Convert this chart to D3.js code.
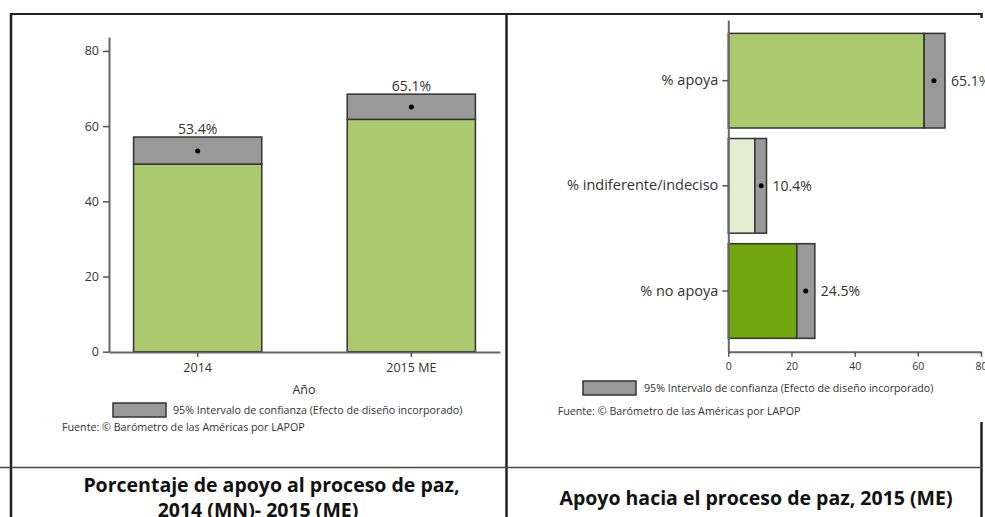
<!DOCTYPE html>
<html>
<head>
<meta charset="utf-8">
<script src="https://cdn.jsdelivr.net/npm/d3@7"></script>
<style>
  body { margin: 0; background: #fff; }
  text { font-family: "Open Sans", "Noto Sans", sans-serif; fill: #333; }
</style>
</head>
<body>
<script>
// left chart: support by year
const years = ['2014', '2015 ME'];
const yearMean = [53.4, 65.1];
const yearLow = [49.9, 61.8];
const yearHigh = [57.1, 68.5];
const yTicksLeft = [0, 20, 40, 60, 80];

// right chart: support categories 2015
const cats = ['% apoya', '% indiferente/indeciso', '% no apoya'];
const catMean = [65.1, 10.4, 24.5];
const catLow = [62.0, 8.4, 21.7];
const catHigh = [68.6, 12.1, 27.4];
const catColors = ['#abc96d', '#e2edd2', '#71a60f'];
const xTicksRight = [0, 20, 40, 60, 80];

const legendText = '95% Intervalo de confianza (Efecto de diseño incorporado)';
const sourceText = 'Fuente: © Barómetro de las Américas por LAPOP';

const width = 985, height = 517;

let svg = d3.select('body').append('svg')
  .attr('width', width)
  .attr('height', height);

function fmt(v){
  return v.toFixed(1) + '%';
}

// ---------- frame ----------
function drawFrame(){
  let g = svg.append('g').attr('stroke', '#222').attr('fill', 'none');
  g.append('line').attr('x1', 10).attr('x2', 982).attr('y1', 14).attr('y2', 14).attr('stroke-width', 2);
  g.append('line').attr('x1', 981.5).attr('x2', 981.5).attr('y1', 13).attr('y2', 18).attr('stroke-width', 2.5);
  g.append('line').attr('x1', 11).attr('x2', 11).attr('y1', 13).attr('y2', height).attr('stroke-width', 2.5);
  g.append('line').attr('x1', 506.5).attr('x2', 506.5).attr('y1', 13).attr('y2', height).attr('stroke-width', 2.5);
  g.append('line').attr('x1', 981.5).attr('x2', 981.5).attr('y1', 422).attr('y2', height).attr('stroke-width', 2.5);
  g.append('line').attr('x1', 0).attr('x2', 982).attr('y1', 467.5).attr('y2', 467.5)
    .attr('stroke', '#444').attr('stroke-width', 1.5);

  // panel captions (second line is cut by the page edge, as in the source)
  svg.append('text')
    .attr('x', 271.5).attr('y', 485)
    .attr('dy', '0.35em')
    .attr('text-anchor', 'middle')
    .style('font-size', '19.5px').style('font-weight', 'bold').style('fill', '#111')
    .text('Porcentaje de apoyo al proceso de paz,');
  svg.append('text')
    .attr('x', 258).attr('y', 510)
    .attr('dy', '0.35em')
    .attr('text-anchor', 'middle')
    .style('font-size', '19.5px').style('font-weight', 'bold').style('fill', '#111')
    .text('2014 (MN)- 2015 (ME)');
  svg.append('text')
    .attr('x', 756).attr('y', 498)
    .attr('dy', '0.35em')
    .attr('text-anchor', 'middle')
    .style('font-size', '19.5px').style('font-weight', 'bold').style('fill', '#111')
    .text('Apoyo hacia el proceso de paz, 2015 (ME)');
}

function styleAxis(a, fontSize){
  a.selectAll('.domain').attr('stroke', '#666').attr('stroke-width', 2);
  a.selectAll('.tick line').attr('stroke', '#555').attr('stroke-width', 1.5);
  a.selectAll('.tick text').style('font-size', fontSize).style('fill', '#333')
    .style('font-family', '"Open Sans", sans-serif');
}

function drawLegend(x, y, tx, sx, sy){
  svg.append('rect')
    .attr('x', x).attr('y', y)
    .attr('width', 53).attr('height', 14)
    .attr('fill', '#999').attr('stroke', '#333').attr('stroke-width', 1.5);
  svg.append('text')
    .attr('x', tx).attr('y', y + 7).attr('dy', '0.35em')
    .style('font-size', '10.7px')
    .text(legendText);
  svg.append('text')
    .attr('x', sx).attr('y', sy).attr('dy', '0.35em')
    .style('font-size', '10.7px')
    .text(sourceText);
}

// ---------- left chart ----------
function drawLeft(){
  const x = d3.scaleBand().domain(years).range([109, 500]).paddingInner(0.4).paddingOuter(0.115);
  const y = d3.scaleLinear().domain([0, 83.7]).range([351.7, 37]);

  let yAxis = svg.append('g')
    .attr('transform', 'translate(109,0)')
    .call(d3.axisLeft(y).tickValues(yTicksLeft).tickSize(6).tickSizeOuter(0).tickPadding(4));
  styleAxis(yAxis, '12.5px');

  let data = years.map((d, i) => ({k: d, m: yearMean[i], lo: yearLow[i], hi: yearHigh[i]}));

  svg.selectAll('.barL').data(data).enter().append('rect')
    .attr('class', 'barL')
    .attr('x', d => x(d.k)).attr('width', x.bandwidth())
    .attr('y', d => y(d.lo)).attr('height', d => y(0) - y(d.lo))
    .attr('fill', '#abc96d').attr('stroke', '#333').attr('stroke-width', 1.5);

  svg.selectAll('.ciL').data(data).enter().append('rect')
    .attr('class', 'ciL')
    .attr('x', d => x(d.k)).attr('width', x.bandwidth())
    .attr('y', d => y(d.hi)).attr('height', d => y(d.lo) - y(d.hi))
    .attr('fill', '#999').attr('stroke', '#333').attr('stroke-width', 1.5);

  svg.selectAll('.dotL').data(data).enter().append('circle')
    .attr('cx', d => x(d.k) + x.bandwidth() / 2)
    .attr('cy', d => y(d.m))
    .attr('r', 2.5).attr('fill', '#000');

  svg.selectAll('.lblL').data(data).enter().append('text')
    .attr('x', d => x(d.k) + x.bandwidth() / 2)
    .attr('y', d => y(d.hi) - 3.5)
    .attr('text-anchor', 'middle')
    .style('font-size', '14px')
    .text(d => fmt(d.m));

  let xAxis = svg.append('g')
    .attr('transform', 'translate(0,352)')
    .call(d3.axisBottom(x).tickSize(5).tickSizeOuter(0).tickPadding(6));
  styleAxis(xAxis, '12.5px');

  svg.append('text')
    .attr('x', 304).attr('y', 390).attr('dy', '0.35em')
    .attr('text-anchor', 'middle')
    .style('font-size', '12.5px')
    .text('Año');

  drawLegend(113, 403, 173, 62, 427);
}

// ---------- right chart ----------
function drawRight(){
  const x = d3.scaleLinear().domain([0, 80]).range([728.3, 981]);
  const y = d3.scaleBand().domain(cats).range([20, 351.7]).paddingInner(0.1).paddingOuter(0.127);

  let data = cats.map((d, i) => ({k: d, m: catMean[i], lo: catLow[i], hi: catHigh[i], c: catColors[i]}));

  svg.selectAll('.barR').data(data).enter().append('rect')
    .attr('class', 'barR')
    .attr('x', x(0)).attr('width', d => x(d.lo) - x(0))
    .attr('y', d => y(d.k)).attr('height', y.bandwidth())
    .attr('fill', d => d.c).attr('stroke', '#333').attr('stroke-width', 1.5);

  svg.selectAll('.ciR').data(data).enter().append('rect')
    .attr('class', 'ciR')
    .attr('x', d => x(d.lo)).attr('width', d => x(d.hi) - x(d.lo))
    .attr('y', d => y(d.k)).attr('height', y.bandwidth())
    .attr('fill', '#999').attr('stroke', '#333').attr('stroke-width', 1.5);

  svg.selectAll('.dotR').data(data).enter().append('circle')
    .attr('cx', d => x(d.m))
    .attr('cy', d => y(d.k) + y.bandwidth() / 2)
    .attr('r', 2.5).attr('fill', '#000');

  svg.selectAll('.lblR').data(data).enter().append('text')
    .attr('x', d => x(d.hi) + 6)
    .attr('y', d => y(d.k) + y.bandwidth() / 2)
    .attr('dy', '0.35em')
    .style('font-size', '14px')
    .text(d => fmt(d.m));

  let yAxis = svg.append('g')
    .attr('transform', 'translate(728.3,0)')
    .call(d3.axisLeft(y).tickSize(6).tickSizeOuter(0).tickPadding(4));
  styleAxis(yAxis, '14.5px');

  let xAxis = svg.append('g')
    .attr('transform', 'translate(0,351.7)')
    .call(d3.axisBottom(x).tickValues(xTicksRight).tickSize(5).tickSizeOuter(0).tickPadding(6));
  styleAxis(xAxis, '10.5px');

  drawLegend(583, 381, 644, 557.7, 411);
}

drawLeft();
drawRight();
drawFrame();
</script>
</body>
</html>
